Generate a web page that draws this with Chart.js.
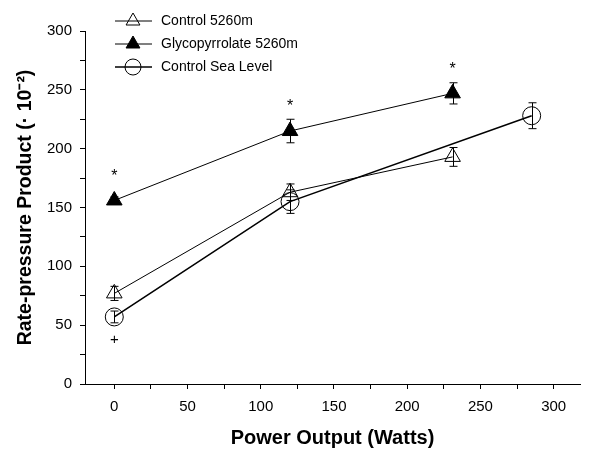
<!DOCTYPE html>
<html>
<head>
<meta charset="utf-8">
<script src="https://cdn.jsdelivr.net/npm/chart.js@4/dist/chart.umd.min.js"></script>
<style>
  html, body { margin: 0; padding: 0; background: #fff; }
  #wrap { width: 591px; height: 450px; }
</style>
</head>
<body>
<div id="wrap"><canvas id="chart" width="591" height="450"></canvas></div>
<script>
// Данные графика
const seriesNames = ['Control 5260m', 'Glycopyrrolate 5260m', 'Control Sea Level'];
const wattsAlt = [0, 120, 231];
const wattsSea = [0, 120, 285];
const control5260 = [77, 163, 193];
const control5260Err = [6, 7, 8];
const glyco5260 = [156, 215, 247];
const glyco5260Err = [3, 10, 9];
const seaLevel = [57, 155, 228];
const seaLevelErr = [5, 10, 11];
const starMarks = [0, 1, 2]; // индексы точек Glycopyrrolate со звёздочкой
const plusMarks = [0]; // индексы точек Sea Level с плюсом
const xTicks = [-25, 0, 25, 50, 75, 100, 125, 150, 175, 200, 225, 250, 275, 300];
const yTicks = [0, 25, 50, 75, 100, 125, 150, 175, 200, 225, 250, 275, 300];

const FONT = "'Liberation Sans', Arial, sans-serif";
Chart.defaults.font.family = FONT;
Chart.defaults.color = '#000';

const toPoints = (xs, ys) => xs.map((x, i) => ({ x, y: ys[i] }));

// Усы погрешностей, отметки и легенда
const extras = {
  id: 'extras',
  afterDatasetsDraw(chart) {
    const { ctx, scales: { x, y } } = chart;
    const errs = [control5260Err, glyco5260Err, seaLevelErr];
    ctx.save();
    ctx.strokeStyle = '#000';
    ctx.lineWidth = 1;
    chart.data.datasets.forEach((ds, di) => {
      ds.data.forEach((p, i) => {
        const px = Math.round(x.getPixelForValue(p.x)) + 0.5;
        const top = y.getPixelForValue(p.y + errs[di][i]);
        const bot = y.getPixelForValue(p.y - errs[di][i]);
        ctx.beginPath();
        ctx.moveTo(px, top); ctx.lineTo(px, bot);
        ctx.moveTo(px - 4, top); ctx.lineTo(px + 4, top);
        ctx.moveTo(px - 4, bot); ctx.lineTo(px + 4, bot);
        ctx.stroke();
      });
    });
    ctx.fillStyle = '#000';
    ctx.textAlign = 'center';
    ctx.textBaseline = 'middle';
    ctx.font = `16px ${FONT}`;
    starMarks.forEach((i) => {
      const px = x.getPixelForValue(wattsAlt[i]);
      const py = y.getPixelForValue(glyco5260[i]);
      ctx.fillText('*', px, py - 24);
    });
    ctx.font = `15px ${FONT}`;
    plusMarks.forEach((i) => {
      const px = x.getPixelForValue(wattsSea[i]);
      const py = y.getPixelForValue(seaLevel[i]);
      ctx.fillText('+', px, py + 23);
    });

    // Легенда
    ctx.font = `14px ${FONT}`;
    ctx.textAlign = 'left';
    chart.data.datasets.forEach((ds, i) => {
      const ly = 21 + i * 23;
      ctx.strokeStyle = '#000';
      ctx.beginPath();
      ctx.lineWidth = ds.borderWidth;
      ctx.moveTo(115, ly); ctx.lineTo(152, ly);
      ctx.stroke();
      ctx.lineWidth = 1;
      ctx.fillStyle = ds.pointBackgroundColor;
      Chart.helpers.drawPoint(ctx, {
        pointStyle: ds.pointStyle, radius: 8, borderWidth: 1,
      }, 133, ly);
      ctx.fillStyle = '#000';
      ctx.fillText(seriesNames[i], 161, ly);
    });
    ctx.restore();
  },
};

new Chart(document.getElementById('chart'), {
  type: 'scatter',
  data: {
    datasets: [
      {
        label: seriesNames[0],
        data: toPoints(wattsAlt, control5260),
        showLine: true,
        borderColor: '#000',
        borderWidth: 1,
        pointStyle: 'triangle',
        pointRadius: 9,
        pointBackgroundColor: 'rgba(255,255,255,0)',
        pointBorderColor: '#000',
        pointBorderWidth: 1,
      },
      {
        label: seriesNames[1],
        data: toPoints(wattsAlt, glyco5260),
        showLine: true,
        borderColor: '#000',
        borderWidth: 1,
        pointStyle: 'triangle',
        pointRadius: 9,
        pointBackgroundColor: '#000',
        pointBorderColor: '#000',
        pointBorderWidth: 1,
      },
      {
        label: seriesNames[2],
        data: toPoints(wattsSea, seaLevel),
        showLine: true,
        borderColor: '#000',
        borderWidth: 1.6,
        pointStyle: 'circle',
        pointRadius: 9,
        pointBackgroundColor: 'rgba(255,255,255,0)',
        pointBorderColor: '#000',
        pointBorderWidth: 1,
      },
    ],
  },
  options: {
    responsive: false,
    animation: false,
    layout: { padding: { top: 31, right: 11, left: 0, bottom: 0 } },
    scales: {
      x: {
        type: 'linear',
        min: -20,
        max: 318,
        afterBuildTicks: (axis) => { axis.ticks = xTicks.filter((v) => v >= axis.min).map((value) => ({ value })); },
        afterFit: (s) => { s.height = 66; },
        border: { display: true, color: '#000', width: 1 },
        grid: { display: true, drawOnChartArea: false, tickLength: 5, tickColor: '#000' },
        ticks: {
          font: { size: 15 },
          padding: 9,
          maxRotation: 0,
          autoSkip: false,
          callback: (v) => (v % 50 === 0 ? v : ''),
        },
        title: {
          display: true,
          text: 'Power Output (Watts)',
          font: { size: 20, weight: 'bold' },
          padding: { top: 0, bottom: 0 },
        },
      },
      y: {
        type: 'linear',
        min: 0,
        max: 300,
        afterBuildTicks: (axis) => { axis.ticks = yTicks.map((value) => ({ value })); },
        afterFit: (s) => { s.width = 85; },
        border: { display: true, color: '#000', width: 1 },
        grid: { display: true, drawOnChartArea: false, tickLength: 5, tickColor: '#000' },
        ticks: {
          font: { size: 15 },
          padding: 8,
          autoSkip: false,
          callback: (v) => (v % 50 === 0 ? v : ''),
        },
        title: {
          display: true,
          text: 'Rate-pressure Product (· 10⁻²)',
          font: { size: 19.5, weight: 'bold' },
          padding: { top: 14, bottom: 0 },
        },
      },
    },
    plugins: {
      legend: { display: false },
      tooltip: { enabled: false },
    },
  },
  plugins: [extras],
});
</script>
</body>
</html>
